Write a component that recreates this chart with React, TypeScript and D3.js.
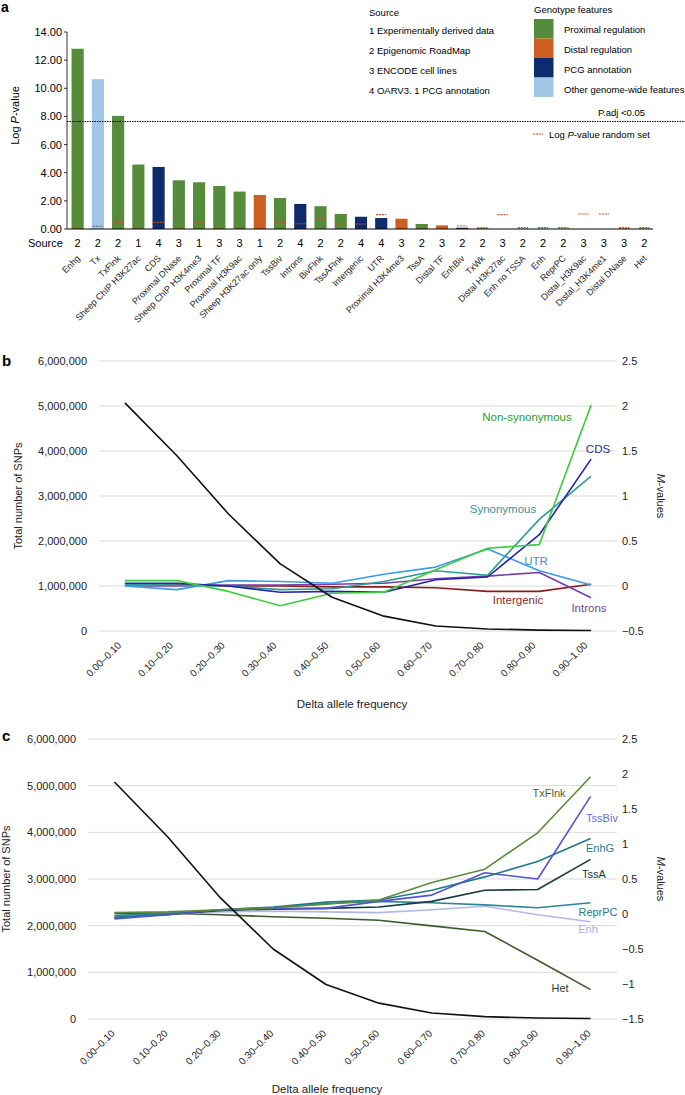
import React from 'react';
import * as d3 from 'd3';

// ---------- Panel a data ----------
const features = ['Enhg', 'Tx', 'TxFlnk', 'Sheep ChIP H3K27ac', 'CDS', 'Proximal DNase', 'Sheep ChIP H3K4me3', 'Proximal TF', 'Proximal H3K9ac', 'Sheep H3K27ac only', 'TssBiv', 'Introns', 'BivFlnk', 'TssAFlnk', 'Intergenic', 'UTR', 'Proximal H3K4me3', 'TssA', 'Distal TF', 'EnhBiv', 'TxWk', 'Distal H3K27ac', 'Enh no TSSA', 'Enh', 'ReprPC', 'Distal_H3K9ac', 'Distal_H3K4me1', 'Distal DNase', 'Het'];
const sources = [2, 2, 2, 1, 4, 3, 1, 3, 3, 1, 2, 4, 2, 2, 4, 4, 3, 2, 3, 2, 2, 3, 2, 2, 2, 3, 3, 3, 2];
const logP = [12.81, 10.65, 8.04, 4.58, 4.41, 3.46, 3.32, 3.06, 2.66, 2.42, 2.21, 1.78, 1.62, 1.07, 0.87, 0.78, 0.73, 0.36, 0.26, 0.09, 0.05, 0.0, 0.02, 0.02, 0.02, 0.0, 0.0, 0.04, 0.03];
const randomLogP = [0.07, 0.2, 0.47, 0.07, 0.47, 0.07, 0.47, 0.07, 0.07, 0.07, 0.47, 0.37, 0.74, 0.36, 0.36, 1.02, 0.05, 0.05, 0.05, 0.21, 0.1, 1.02, 0.1, 0.1, 0.1, 1.07, 1.07, 0.1, 0.1];
const groups = ['prox', 'other', 'prox', 'prox', 'pcg', 'prox', 'prox', 'prox', 'prox', 'dist', 'prox', 'pcg', 'prox', 'prox', 'pcg', 'pcg', 'dist', 'prox', 'dist', 'pcg', 'prox', 'dist', 'prox', 'prox', 'prox', 'dist', 'dist', 'dist', 'prox'];
const pAdjThreshold = 7.64;
const yTicksA = [0, 2, 4, 6, 8, 10, 12, 14];
const sourceLegend = ['1 Experimentally derived data', '2 Epigenomic RoadMap', '3 ENCODE cell lines', '4 OARV3. 1 PCG annotation'];
const groupKeys = ['prox', 'dist', 'pcg', 'other'];
const groupLabels = ['Proximal regulation', 'Distal regulation', 'PCG annotation', 'Other genome-wide features'];

// ---------- Panels b & c data ----------
const deltaBins = ['0.00–0.10', '0.10–0.20', '0.20–0.30', '0.30–0.40', '0.40–0.50', '0.50–0.60', '0.60–0.70', '0.70–0.80', '0.80–0.90', '0.90–1.00'];
const totalSnpsB = [5070000, 3900000, 2600000, 1490000, 750000, 330000, 110000, 45000, 20000, 10000];
const totalSnpsC = [5080000, 3910000, 2600000, 1500000, 740000, 340000, 130000, 50000, 20000, 10000];
const leftTicks = [0, 1000000, 2000000, 3000000, 4000000, 5000000, 6000000];
const rightTicksB = [-0.5, 0, 0.5, 1, 1.5, 2, 2.5];
const rightTicksC = [-1.5, -1, -0.5, 0, 0.5, 1, 1.5, 2, 2.5];

const bNames = ['Intergenic', 'Introns', 'UTR', 'Synonymous', 'CDS', 'Non-synonymous'];
const bIntergenic = [0.02, 0.02, 0.0, 0.0, -0.01, -0.01, -0.02, -0.06, -0.06, 0.02];
const bIntrons = [0.0, 0.0, 0.01, 0.01, 0.02, 0.03, 0.08, 0.11, 0.15, -0.13];
const bUTR = [0.0, -0.04, 0.06, 0.05, 0.03, 0.13, 0.21, 0.41, 0.17, 0.01];
const bSynonymous = [0.02, 0.01, 0.0, -0.04, -0.03, 0.05, 0.17, 0.12, 0.74, 1.22];
const bCDS = [0.03, 0.03, 0.0, -0.07, -0.06, -0.07, 0.07, 0.1, 0.57, 1.41];
const bNonSyn = [0.06, 0.06, -0.06, -0.22, -0.08, -0.07, 0.18, 0.42, 0.46, 2.01];

const cNames = ['Het', 'Enh', 'ReprPC', 'TssA', 'EnhG', 'TssBiv', 'TxFlnk'];
const cHet = [0.01, 0.01, -0.01, -0.04, -0.06, -0.09, -0.17, -0.25, -0.66, -1.08];
const cEnh = [-0.03, 0.0, 0.03, 0.04, 0.03, 0.02, 0.06, 0.11, -0.01, -0.11];
const cReprPC = [-0.02, 0.01, 0.05, 0.09, 0.15, 0.18, 0.16, 0.13, 0.09, 0.16];
const cTssA = [-0.05, -0.01, 0.05, 0.07, 0.08, 0.1, 0.18, 0.34, 0.35, 0.78];
const cEnhG = [-0.05, 0.0, 0.06, 0.1, 0.17, 0.2, 0.34, 0.53, 0.75, 1.08];
const cTssBiv = [-0.07, -0.01, 0.06, 0.08, 0.08, 0.18, 0.27, 0.59, 0.5, 1.68];
const cTxFlnk = [0.02, 0.03, 0.06, 0.09, 0.14, 0.2, 0.45, 0.64, 1.16, 1.96];

const FONT = '"Liberation Sans", Arial, Helvetica, sans-serif';
const groupColor: Record<string, string> = { prox: '#568b3b', dist: '#cc5f20', pcg: '#0e2b6b', other: '#a0c6e8' };
const GRID = '#d9d9d9';

function PanelA() {
  const x = d3.scaleBand<string>().domain(features).range([66.5, 655.5]).paddingInner(0.4).paddingOuter(0.25);
  const y = d3.scaleLinear().domain([0, 14]).range([229, 32]);
  const bw = x.bandwidth();
  return (
    <g>
      <text x={1} y={12} fontSize={14} fontWeight="bold">a</text>
      {/* y axis */}
      <line x1={67} x2={67} y1={y(14)} y2={y(0)} stroke="#000" strokeWidth={0.8} />
      {yTicksA.map(t => (
        <g key={t}>
          <line x1={64} x2={67} y1={y(t)} y2={y(t)} stroke="#000" strokeWidth={0.8} />
          <text x={62} y={y(t) + 4} fontSize={11} textAnchor="end">{t.toFixed(2)}</text>
        </g>
      ))}
      <text transform={`translate(19,${(y(0) + y(14)) / 2 - 15}) rotate(-90)`} fontSize={11} textAnchor="middle">
        Log <tspan fontStyle="italic">P</tspan>-value
      </text>
      {/* bars */}
      {features.map((f, i) => (
        <rect key={f} x={x(f)} y={y(logP[i])} width={bw} height={y(0) - y(logP[i])} fill={groupColor[groups[i]]} />
      ))}
      {/* random set markers */}
      {features.map((f, i) => (
        <line key={'r' + f} x1={x(f)! + 1} x2={x(f)! + bw - 1} y1={y(randomLogP[i])} y2={y(randomLogP[i])}
          stroke={groups[i] === 'other' ? '#666' : '#c0531e'} strokeWidth={1.1} strokeDasharray="2,1" />
      ))}
      <line x1={67} x2={653} y1={y(0)} y2={y(0)} stroke="#000" strokeWidth={1} />
      {/* threshold */}
      <line x1={67} x2={685} y1={y(pAdjThreshold)} y2={y(pAdjThreshold)} stroke="#000" strokeWidth={1} strokeDasharray="1.5,1" />
      <text x={598} y={116} fontSize={9.5}>P.adj &lt;0.05</text>
      <line x1={533} x2={543} y1={134} y2={134} stroke="#c0531e" strokeWidth={1.1} strokeDasharray="2,1" />
      <text x={549} y={137.5} fontSize={9.5}>Log <tspan fontStyle="italic">P</tspan>-value random set</text>
      {/* source row */}
      <text x={28} y={247} fontSize={11}>Source</text>
      {features.map((f, i) => (
        <text key={'s' + f} x={x(f)! + bw / 2} y={247} fontSize={11} textAnchor="middle">{sources[i]}</text>
      ))}
      {features.map(f => (
        <text key={'l' + f} transform={`translate(${x(f)! + bw / 2 + 3},259) rotate(-45)`} fontSize={9} textAnchor="end" fill="#222">{f}</text>
      ))}
      {/* legend */}
      <text x={369} y={15.5} fontSize={9.5}>Source</text>
      {sourceLegend.map((s, i) => (
        <text key={s} x={369} y={33.5 + i * 20.3} fontSize={9.5}>{s}</text>
      ))}
      <text x={534} y={12.5} fontSize={9.5}>Genotype features</text>
      {groupKeys.map((g, i) => (
        <g key={g}>
          <rect x={534} y={19 + i * 19.5} width={19.5} height={19.5} fill={groupColor[g]} />
          <text x={564} y={32.5 + i * 20} fontSize={9.5}>{groupLabels[i]}</text>
        </g>
      ))}
    </g>
  );
}

type Series = { name: string; values: number[]; color: string; lx: number; ly: number; tcolor: string };

function LinePanel(props: {
  top: number; bottom: number; left: number; right: number; labelX: number; rightDomain: [number, number];
  rightTicks: number[]; totals: number[]; series: Series[]; letter: string; letterY: number; xlabY: number;
  xOffset: number; titleX: number; titleY: number; snpTitleX: number; fontLbl: number;
}) {
  const p = props;
  const x = d3.scalePoint<string>().domain(deltaBins).range([p.left, p.right]).padding(0.5);
  const yL = d3.scaleLinear().domain([0, 6000000]).range([p.bottom, p.top]);
  const yR = d3.scaleLinear().domain(p.rightDomain).range([p.bottom, p.top]);
  const fmt = d3.format(',');
  const lineL = d3.line<number>().x((_, i) => x(deltaBins[i])!).y(d => yL(d));
  const lineR = d3.line<number>().x((_, i) => x(deltaBins[i])!).y(d => yR(d));
  const mid = (p.top + p.bottom) / 2;
  return (
    <g>
      <text x={2} y={p.letterY} fontSize={15} fontWeight="bold">{p.letter}</text>
      {leftTicks.map(t => (
        <g key={t}>
          <line x1={p.left} x2={p.right} y1={yL(t)} y2={yL(t)} stroke={GRID} strokeWidth={1} />
          <text x={p.labelX} y={yL(t) + 4} fontSize={11} textAnchor="end" fill="#222">{fmt(t)}</text>
        </g>
      ))}
      {p.rightTicks.map(t => (
        <text key={t} x={622} y={yR(t) + 4} fontSize={11} fill="#222">{t < 0 ? '−' + Math.abs(t) : String(t)}</text>
      ))}
      {deltaBins.map(b => (
        <text key={b} transform={`translate(${x(b)! + p.xOffset},${p.xlabY}) rotate(-45)`} fontSize={10} textAnchor="end" fill="#222">{b}</text>
      ))}
      <text transform={`translate(${p.snpTitleX},${mid}) rotate(-90)`} fontSize={11} textAnchor="middle" fill="#222">Total number of SNPs</text>
      <text transform={`translate(657,${mid}) rotate(90)`} fontSize={11} textAnchor="middle" fill="#222">
        <tspan fontStyle="italic">M</tspan>-values
      </text>
      <text x={p.titleX} y={p.titleY} fontSize={11.5} textAnchor="middle" fill="#222">Delta allele frequency</text>
      {p.series.map(s => (
        <path key={s.name} d={lineR(s.values)!} fill="none" stroke={s.color} strokeWidth={1.6} strokeLinejoin="round" />
      ))}
      <path d={lineL(p.totals)!} fill="none" stroke="#111" strokeWidth={1.6} strokeLinejoin="round" />
      {p.series.map(s => (
        <text key={'t' + s.name} x={s.lx} y={s.ly} fontSize={p.fontLbl} textAnchor="middle" fill={s.tcolor}>{s.name}</text>
      ))}
    </g>
  );
}

export default function App() {
  const seriesB: Series[] = [
    { name: bNames[0], values: bIntergenic, color: '#8b1c1c', lx: 518, ly: 604, tcolor: '#8b2a2a' },
    { name: bNames[1], values: bIntrons, color: '#7a3da0', lx: 589, ly: 612, tcolor: '#7a3d98' },
    { name: bNames[2], values: bUTR, color: '#3b9be6', lx: 536, ly: 565, tcolor: '#3b8fe0' },
    { name: bNames[3], values: bSynonymous, color: '#2a9c97', lx: 503, ly: 513, tcolor: '#35958f' },
    { name: bNames[4], values: bCDS, color: '#2222b0', lx: 598, ly: 453, tcolor: '#2c2c9c' },
    { name: bNames[5], values: bNonSyn, color: '#3ccc3c', lx: 527, ly: 421, tcolor: '#28a028' },
  ];
  const seriesC: Series[] = [
    { name: cNames[0], values: cHet, color: '#3d5a2b', lx: 560, ly: 992, tcolor: '#2e3f22' },
    { name: cNames[1], values: cEnh, color: '#b3b7e8', lx: 588, ly: 933, tcolor: '#a9ade6' },
    { name: cNames[2], values: cReprPC, color: '#2a8796', lx: 598, ly: 916, tcolor: '#2a7a86' },
    { name: cNames[3], values: cTssA, color: '#173a3c', lx: 594, ly: 878, tcolor: '#173536' },
    { name: cNames[4], values: cEnhG, color: '#1f7a8a', lx: 600, ly: 852, tcolor: '#2a7a86' },
    { name: cNames[5], values: cTssBiv, color: '#5454cf', lx: 602, ly: 822, tcolor: '#6a6ad2' },
    { name: cNames[6], values: cTxFlnk, color: '#5b8a3c', lx: 549, ly: 797, tcolor: '#4a6238' },
  ];
  return (
    <svg width={685} height={1095} style={{ position: 'absolute', left: 0, top: 0, background: '#fff' }} fontFamily={FONT}>
      <rect width={685} height={1095} fill="#fff" />
      <PanelA />
      <LinePanel top={361} bottom={631} left={99} right={617} labelX={87} rightDomain={[-0.5, 2.5]} rightTicks={rightTicksB}
        totals={totalSnpsB} series={seriesB} letter="b" letterY={366} xlabY={646} xOffset={-3} titleX={352} titleY={708}
        snpTitleX={22} fontLbl={11.5} />
      <LinePanel top={739} bottom={1019} left={88} right={617} labelX={76} rightDomain={[-1.5, 2.5]} rightTicks={rightTicksC}
        totals={totalSnpsC} series={seriesC} letter="c" letterY={741} xlabY={1034} xOffset={1} titleX={327} titleY={1093}
        snpTitleX={10} fontLbl={11} />
    </svg>
  );
}
